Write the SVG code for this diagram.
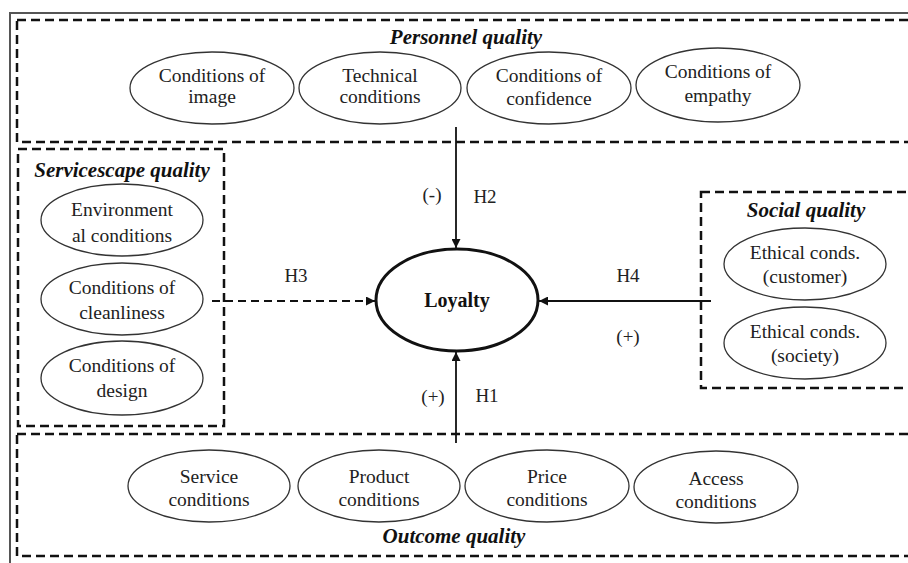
<svg xmlns="http://www.w3.org/2000/svg" width="908" height="563" viewBox="0 0 908 563">
<defs>
<style>
.box{fill:none;stroke:#111;stroke-width:2.5;stroke-dasharray:9 5}
.el{fill:#fff;stroke:#333;stroke-width:1.3}
.t{font-family:"Liberation Serif","Times New Roman",serif;font-size:19.5px;fill:#222;text-anchor:middle}
.h{font-family:"Liberation Serif","Times New Roman",serif;font-size:21px;font-weight:bold;font-style:italic;fill:#111;text-anchor:middle}
.lbl{font-family:"Liberation Serif","Times New Roman",serif;font-size:19px;fill:#222;text-anchor:middle}
.ln{fill:none;stroke:#111;stroke-width:1.8}
</style>
<marker id="ah" viewBox="0 0 10 10" refX="10" refY="5" markerWidth="11" markerHeight="9" markerUnits="userSpaceOnUse" orient="auto">
<path d="M0,0 L10,5 L0,10 z" fill="#111"/>
</marker>
</defs>
<rect width="908" height="563" fill="#fff"/>
<path d="M10,563 V13 H908" fill="none" stroke="#555" stroke-width="2"/>

<g id="personnel">
<rect class="box" x="17" y="20" width="905" height="122"/>
<text class="h" x="466" y="44">Personnel quality</text>
<g id="p-image"><ellipse class="el" cx="212" cy="88" rx="82" ry="36"/><text class="t" x="212" y="82">Conditions of</text><text class="t" x="212" y="103">image</text></g>
<g id="p-technical"><ellipse class="el" cx="380" cy="88" rx="81" ry="36"/><text class="t" x="380" y="82">Technical</text><text class="t" x="380" y="103">conditions</text></g>
<g id="p-confidence"><ellipse class="el" cx="549" cy="88" rx="82" ry="36"/><text class="t" x="549" y="82">Conditions of</text><text class="t" x="549" y="105">confidence</text></g>
<g id="p-empathy"><ellipse class="el" cx="718" cy="85" rx="82" ry="37"/><text class="t" x="718" y="78">Conditions of</text><text class="t" x="718" y="102">empathy</text></g>
</g>

<g id="servicescape">
<rect class="box" x="18" y="149" width="206" height="277"/>
<text class="h" x="122" y="177">Servicescape quality</text>
<g id="s-environment"><ellipse class="el" cx="122" cy="220" rx="81" ry="36"/><text class="t" x="122" y="216">Environment</text><text class="t" x="122" y="242">al conditions</text></g>
<g id="s-cleanliness"><ellipse class="el" cx="122" cy="299" rx="81" ry="36"/><text class="t" x="122" y="294">Conditions of</text><text class="t" x="122" y="319">cleanliness</text></g>
<g id="s-design"><ellipse class="el" cx="122" cy="378" rx="81" ry="37"/><text class="t" x="122" y="372">Conditions of</text><text class="t" x="122" y="397">design</text></g>
</g>

<g id="social">
<rect class="box" x="701" y="192" width="220" height="196"/>
<text class="h" x="806" y="217">Social quality</text>
<g id="so-customer"><ellipse class="el" cx="805" cy="264" rx="81" ry="36"/><text class="t" x="805" y="259">Ethical conds.</text><text class="t" x="805" y="283">(customer)</text></g>
<g id="so-society"><ellipse class="el" cx="805" cy="343" rx="81" ry="36"/><text class="t" x="805" y="338">Ethical conds.</text><text class="t" x="805" y="362">(society)</text></g>
</g>

<g id="outcome">
<rect class="box" x="17" y="434" width="905" height="122"/>
<text class="h" x="454" y="543">Outcome quality</text>
<g id="o-service"><ellipse class="el" cx="209" cy="486" rx="81" ry="36"/><text class="t" x="209" y="483">Service</text><text class="t" x="209" y="506">conditions</text></g>
<g id="o-product"><ellipse class="el" cx="379" cy="486" rx="81" ry="36"/><text class="t" x="379" y="483">Product</text><text class="t" x="379" y="506">conditions</text></g>
<g id="o-price"><ellipse class="el" cx="547" cy="486" rx="82" ry="36"/><text class="t" x="547" y="483">Price</text><text class="t" x="547" y="506">conditions</text></g>
<g id="o-access"><ellipse class="el" cx="716" cy="487" rx="82" ry="36"/><text class="t" x="716" y="485">Access</text><text class="t" x="716" y="508">conditions</text></g>
</g>

<g id="loyalty">
<ellipse cx="457" cy="300" rx="81" ry="51" fill="#fff" stroke="#111" stroke-width="3"/>
<text x="457" y="307" font-family="Liberation Serif, Times New Roman, serif" font-size="20" font-weight="bold" text-anchor="middle" fill="#111">Loyalty</text>
</g>

<g id="connectors">
<line class="ln" x1="456" y1="127" x2="456" y2="248" marker-end="url(#ah)"/>
<line class="ln" x1="456" y1="443" x2="456" y2="352" marker-end="url(#ah)"/>
<line class="ln" x1="212" y1="301" x2="375" y2="301" stroke-dasharray="8 5" marker-end="url(#ah)"/>
<line class="ln" x1="711" y1="301" x2="539" y2="301" marker-end="url(#ah)"/>
<text class="lbl" x="432" y="201">(-)</text>
<text class="lbl" x="485" y="203">H2</text>
<text class="lbl" x="296" y="282">H3</text>
<text class="lbl" x="628" y="282">H4</text>
<text class="lbl" x="628" y="343">(+)</text>
<text class="lbl" x="433" y="403">(+)</text>
<text class="lbl" x="487" y="402">H1</text>
</g>
</svg>
